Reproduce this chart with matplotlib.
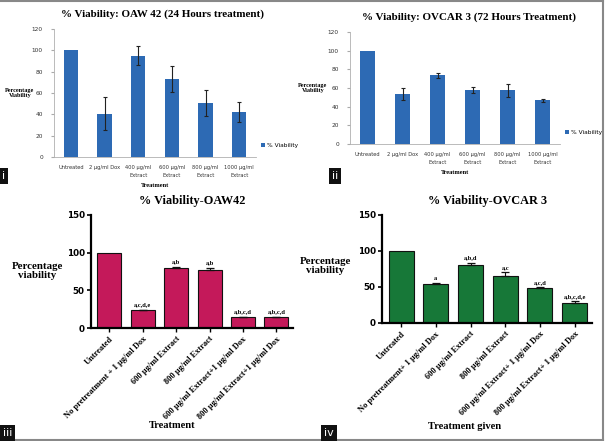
import matplotlib
matplotlib.use('Agg')
import matplotlib.pyplot as plt
from matplotlib.lines import Line2D
import numpy as np

# panel i - OAW 42, 24 h (Excel style)
cats_top = ['Untreated', '2 µg/ml Dox', '400 µg/ml\nExtract', '600 µg/ml\nExtract',
            '800 µg/ml\nExtract', '1000 µg/ml\nExtract']
oaw_24h = [100, 40.5, 95, 73, 50.5, 42.5]
oaw_24h_err = [0, 15.5, 9, 12, 12, 9.5]

# panel ii - OVCAR 3, 72 h
ovcar_72h = [100, 53.5, 73.5, 58, 57.5, 47]
ovcar_72h_err = [0, 6, 2.5, 3, 7, 1.5]

# panel iii - OAW42 pretreatment
cats_oaw = ['Untreated', 'No pretreatment + 1 µg/ml Dox', '600 µg/ml Extract',
            '800 µg/ml Extract', '600 µg/ml Extract+1 µg/ml Dox',
            '800 µg/ml Extract+1 µg/ml Dox']
oaw_pre = [100, 23.5, 80, 77, 14, 14]
oaw_pre_err = [0, 1, 1.5, 3, 1, 1]
oaw_sig = ['', 'a,c,d,e', 'a,b', 'a,b', 'a,b,c,d', 'a,b,c,d']

# panel iv - OVCAR 3 pretreatment
cats_ovcar = ['Untreated', 'No pretreatment+ 1 µg/ml Dox', '600 µg/ml Extract',
              '800 µg/ml Extract', '600 µg/ml Extract+ 1 µg/ml Dox',
              '800 µg/ml Extract+ 1 µg/ml Dox']
ovcar_pre = [100, 54, 81, 65, 48.5, 28]
ovcar_pre_err = [0, 1.5, 3, 5.5, 1.5, 2.5]
ovcar_sig = ['', 'a', 'a,b,d', 'a,c', 'a,c,d', 'a,b,c,d,e']

W, H = 605, 441
serif = 'Liberation Serif'

fig = plt.figure(figsize=(6.05, 4.41), dpi=100)
fig.set_facecolor('white')


def px_axes(left, top, right, bottom):
    return fig.add_axes([left / W, (H - bottom) / H, (right - left) / W, (bottom - top) / H])


def excel_panel(ax, vals, errs, title, title_x, ylab_x, ylab_y, leg_y):
    x = np.arange(len(cats_top))
    ax.bar(x, vals, width=0.42, color='#2d6ab4', label='% Viability', zorder=2)
    ax.errorbar(x[1:], vals[1:], yerr=errs[1:], fmt='none', ecolor='#222222',
                elinewidth=0.8, capsize=1.5, capthick=0.8, zorder=3)
    ax.set_xlim(-0.5, len(x) - 0.5)
    ax.set_ylim(0, 120)
    ax.set_yticks(range(0, 121, 20))
    ax.set_xticks(x)
    ax.set_xticklabels(cats_top, fontsize=3.7, color='#333333', linespacing=1.6)
    ax.tick_params(axis='y', labelsize=4.2, labelcolor='#333333', length=2, color='#aaaaaa', pad=6)
    ax.tick_params(axis='x', length=0, pad=6)
    for s in ['top', 'right']:
        ax.spines[s].set_visible(False)
    ax.spines['left'].set_color('#b0b0b0')
    ax.spines['bottom'].set_color('#b0b0b0')
    ax.spines['left'].set_linewidth(0.6)
    ax.spines['bottom'].set_linewidth(0.6)
    ax.set_title(title, fontsize=7.9, fontweight='bold', family=serif, pad=9, x=title_x)
    ax.set_xlabel('Treatment', fontsize=4.6, fontweight='bold', family=serif, labelpad=4)
    fig.text(ylab_x / W, 1 - ylab_y / H, 'Percentage\nViability', fontsize=4.4,
             fontweight='bold', family=serif, ha='center', va='center')
    ax.legend(loc='center left', bbox_to_anchor=(1.0, leg_y), frameon=False,
              fontsize=4.2, handlelength=0.7, handleheight=0.7, handletextpad=0.3)


def prism_panel(ax, cats, vals, errs, sigs, color, title, xlab, xlab_pos, ylab_x, ylab_y):
    x = np.arange(len(cats))
    ax.bar(x, vals, width=0.72, color=color, edgecolor='#111111', linewidth=0.8, zorder=2)
    ax.errorbar(x[1:], vals[1:], yerr=[[0] * 5, errs[1:]], fmt='none', ecolor='#111111',
                elinewidth=0.8, capsize=3, capthick=0.9, zorder=3)
    for xi, v, e, s in zip(x, vals, errs, sigs):
        if s:
            ax.text(xi, v + e + 3, s, ha='center', va='bottom', fontsize=4.6,
                    fontweight='bold', family=serif)
    ax.set_xlim(-0.55, len(x) - 0.5)
    ax.set_ylim(0, 150)
    ax.set_yticks([0, 50, 100, 150])
    ax.set_xticks(x)
    ax.set_xticklabels(cats, rotation=45, ha='right', rotation_mode='anchor',
                       fontsize=6.0, fontweight='bold', family=serif)
    for lab in ax.get_yticklabels():
        lab.set_fontweight('bold')
    ax.tick_params(axis='y', labelsize=6.3, length=3, width=1.2, pad=1.5)
    ax.tick_params(axis='x', length=3, width=1.0, pad=2)
    for s in ['top', 'right']:
        ax.spines[s].set_visible(False)
    ax.spines['left'].set_linewidth(1.6)
    ax.spines['bottom'].set_linewidth(1.6)
    ax.set_title(title, fontsize=8.8, fontweight='bold', family=serif, pad=8)
    ax.set_xlabel(xlab, fontsize=7.6, fontweight='bold', family=serif)
    ax.xaxis.set_label_coords(*xlab_pos)
    fig.text(ylab_x / W, 1 - ylab_y / H, 'Percentage\nviability', fontsize=7.8,
             fontweight='bold', family=serif, ha='center', va='center', linespacing=1.1)


ax1 = px_axes(54, 29, 256, 157)
excel_panel(ax1, oaw_24h, oaw_24h_err, '% Viability: OAW 42 (24 Hours treatment)', 0.535,
            20, 93, 0.09)

ax2 = px_axes(350, 32, 560, 144)
excel_panel(ax2, ovcar_72h, ovcar_72h_err, '% Viability: OVCAR 3 (72 Hours Treatment)', 0.567,
            313, 88, 0.10)

ax3 = px_axes(91, 215, 293, 328)
prism_panel(ax3, cats_oaw, oaw_pre, oaw_pre_err, oaw_sig, '#c4195a',
            '% Viability-OAW42', 'Treatment', (0.40, -0.82), 37, 271)

ax4 = px_axes(382, 215, 592, 323)
prism_panel(ax4, cats_ovcar, ovcar_pre, ovcar_pre_err, ovcar_sig, '#177838',
            '% Viability-OVCAR 3', 'Treatment given', (0.395, -0.92), 325, 266)

# panel tags
for tx, ty, tag in [(2, 176, 'i'), (332, 176, 'ii'), (3, 433, 'iii'), (324, 433, 'iv')]:
    fig.text(tx / W, 1 - ty / H, tag, fontsize=8, color='white', ha='left', va='center',
             bbox=dict(boxstyle='square,pad=0.25', facecolor='#111111', edgecolor='none'))

# frame lines
for xs, ys in [([0, 603], [440, 440]), ([603, 603], [1, 440]), ([0, 603], [1, 1])]:
    fig.add_artist(Line2D([v / W for v in xs], [1 - v / H for v in ys], color='#888888', lw=1.5))

fig.savefig('out.png', dpi=100)
